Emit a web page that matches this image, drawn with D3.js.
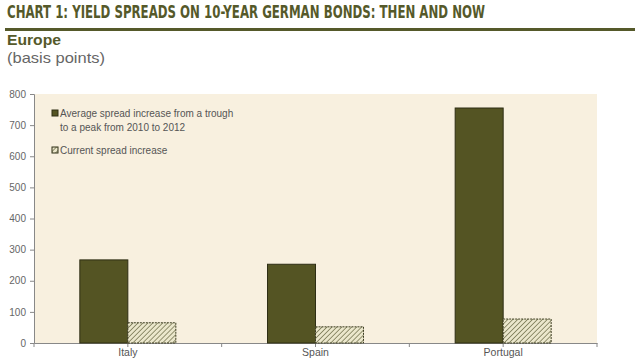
<!DOCTYPE html>
<html><head><meta charset="utf-8">
<script src="https://cdn.jsdelivr.net/npm/d3@7"></script>
<style>body{margin:0;background:#fff}svg{display:block}</style>
</head><body>
<svg id="c" width="640" height="360"></svg>
<script>
const categories = ["Italy", "Spain", "Portugal"];
const seriesNames = ["Average spread increase from a trough\nto a peak from 2010 to 2012", "Current spread increase"];
const peakSpread = [267, 253, 755];
const currentSpread = [65, 52, 77];
const yTicks = [0, 100, 200, 300, 400, 500, 600, 700, 800];

const svg = d3.select("#c");
const olive = "#545423";
const font = "'Liberation Sans', Arial, sans-serif";

const defs = svg.append("defs");
const pat = defs.append("pattern").attr("id","hatch").attr("patternUnits","userSpaceOnUse")
  .attr("width",3.5).attr("height",3.5).attr("patternTransform","rotate(45)");
pat.append("rect").attr("width",3.5).attr("height",3.5).attr("fill","#ebe7cc");
pat.append("line").attr("x1",0).attr("y1",0).attr("x2",0).attr("y2",3.5).attr("stroke","#6b6b45").attr("stroke-width",1.4);

// Title
svg.append("text").attr("x",7).attr("y",18).text("CHART 1: YIELD SPREADS ON 10-YEAR GERMAN BONDS: THEN AND NOW")
  .attr("font-family","'DejaVu Sans Condensed', 'DejaVu Sans', sans-serif").attr("font-weight","bold")
  .attr("font-size",17).attr("fill","#55592a").attr("textLength",478).attr("lengthAdjust","spacingAndGlyphs");
svg.append("rect").attr("x",5).attr("y",28).attr("width",630).attr("height",3).attr("fill","#55592a");
svg.append("text").attr("x",7).attr("y",45).text("Europe").attr("font-family",font).attr("font-weight","bold")
  .attr("font-size",15).attr("fill","#55592a").attr("textLength",54).attr("lengthAdjust","spacingAndGlyphs");
svg.append("text").attr("x",7).attr("y",63).text("(basis points)").attr("font-family",font)
  .attr("font-size",15).attr("fill","#666").attr("textLength",98).attr("lengthAdjust","spacingAndGlyphs");

const m = {l:34, r:597, t:94, b:343};
const y = d3.scaleLinear().domain([0,800]).range([m.b, m.t]);
const x = d3.scaleBand().domain(categories).range([m.l, m.r]);
const bw = 48;

svg.append("rect").attr("x",m.l+1).attr("y",m.t).attr("width",m.r-m.l-1).attr("height",m.b-m.t).attr("fill","#f8f0df");

// Y axis
const yAxis = svg.append("g").attr("transform",`translate(${m.l},0)`)
  .call(d3.axisLeft(y).tickValues(yTicks).tickSize(4).tickPadding(4));
yAxis.select(".domain").attr("stroke","#888");
yAxis.selectAll(".tick line").attr("stroke","#888");
yAxis.selectAll("text").attr("font-family",font).attr("font-size",10).attr("fill","#666");

// X axis
const xAxis = svg.append("g").attr("transform",`translate(0,${m.b})`)
  .call(d3.axisBottom(x).tickSize(0).tickPadding(6));
xAxis.select(".domain").attr("stroke","#888");
xAxis.selectAll("text").attr("font-family",font).attr("font-size",10.5).attr("fill","#555");
const bounds = d3.range(categories.length+1).map(i => m.l + i*x.step());
xAxis.selectAll(".bnd").data(bounds.concat(categories.map(c=>x(c)+x.bandwidth()/2))).enter().append("line")
  .attr("x1",d=>d).attr("x2",d=>d).attr("y1",0).attr("y2",4).attr("stroke","#888");

// Bars
const g = svg.append("g");
g.selectAll(".pk").data(categories).enter().append("rect")
  .attr("x",c=>x(c)+x.bandwidth()/2-bw).attr("width",bw)
  .attr("y",(c,i)=>y(peakSpread[i])).attr("height",(c,i)=>m.b-y(peakSpread[i]))
  .attr("fill",olive).attr("stroke","#2e2e14").attr("stroke-width",1);
g.selectAll(".cu").data(categories).enter().append("rect")
  .attr("x",c=>x(c)+x.bandwidth()/2).attr("width",bw)
  .attr("y",(c,i)=>y(currentSpread[i])).attr("height",(c,i)=>m.b-y(currentSpread[i]))
  .attr("fill","url(#hatch)").attr("stroke","#3e3e22").attr("stroke-width",1).attr("stroke-dasharray","2,1");

// Legend
const lg = svg.append("g").attr("font-family",font).attr("font-size",10).attr("fill","#555");
lg.append("rect").attr("x",52).attr("y",110).attr("width",6).attr("height",6).attr("fill",olive).attr("stroke","#2e2e14");
const l1 = seriesNames[0].split("\n");
lg.append("text").attr("x",60).attr("y",117).text(l1[0]);
lg.append("text").attr("x",60).attr("y",131).text(l1[1]);
lg.append("rect").attr("x",52).attr("y",147).attr("width",6).attr("height",6).attr("fill","url(#hatch)").attr("stroke","#2e2e14");
lg.append("text").attr("x",60).attr("y",154).text(seriesNames[1]);
</script>
</body></html>
